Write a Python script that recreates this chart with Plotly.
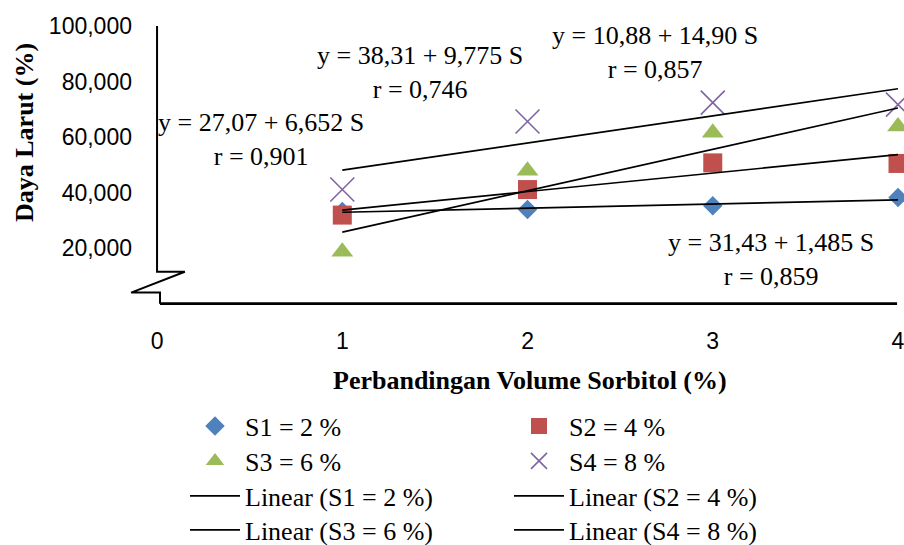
import plotly.graph_objects as go

# ---- data ----
x_vals = [1, 2, 3, 4]
s1 = [33.2, 33.9, 35.3, 38.2]
s2 = [31.9, 41.1, 50.7, 50.5]
s3 = [18.7, 47.9, 61.6, 63.8]
s4 = [41.1, 65.6, 72.4, 71.7]
series_names = ["S1 = 2 %", "S2 = 4 %", "S3 = 6 %", "S4 = 8 %"]
intercepts = [31.43, 27.07, 10.88, 38.31]
slopes = [1.485, 6.652, 14.90, 9.775]
r_vals = ["0,859", "0,901", "0,857", "0,746"]
eq_text = ["31,43 + 1,485 S", "27,07 + 6,652 S", "10,88 + 14,90 S", "38,31 + 9,775 S"]
y_ticks = [20, 40, 60, 80, 100]
y_ticktext = ["20,000", "40,000", "60,000", "80,000", "100,000"]
x_ticks = [0, 1, 2, 3, 4]
x_ticktext = ["0", "1", "2", "3", "4"]

colors = ["#4F81BD", "#C0504D", "#9BBB59", "#8064A2"]
symbols = ["diamond", "square", "triangle-up", "x-thin"]
sizes = [15, 19, 19, 24]
SERIF = "Liberation Serif, Times New Roman, serif"
SANS = "Liberation Sans, Arial, sans-serif"

W, H = 904, 545
ML, MR, MT, MB = 120, 6, 26, 233
PW, PH = W - ML - MR, H - MT - MB

def px_to_paper_x(px):
    return (px - ML) / PW

def px_to_paper_y(py):
    return (MT + PH - py) / PH

fig = go.Figure()
data = [s1, s2, s3, s4]
legend_ids = ["legend", "legend2", "legend3", "legend4"]
for i in range(4):
    fig.add_trace(go.Scatter(
        x=x_vals, y=data[i], mode="markers", name=series_names[i],
        marker=dict(symbol=symbols[i], size=sizes[i], color=colors[i],
                    line=dict(width=1.6 if symbols[i] == "x-thin" else 0, color=colors[i])),
        legend=legend_ids[i], cliponaxis=False,
    ))
trend_legends = ["legend5", "legend6", "legend7", "legend8"]
for i in range(4):
    xs = [x_vals[0], x_vals[-1]]
    ys = [intercepts[i] + slopes[i] * xx for xx in xs]
    fig.add_trace(go.Scatter(
        x=xs, y=ys, mode="lines", name="Linear (" + series_names[i] + ")",
        line=dict(color="black", width=1.7), legend=trend_legends[i],
    ))

# equation annotations (S1, S2, S3, S4)
ann_pos = [(3.315, 15.8), (0.56, 59.0), (2.688, 90.6), (1.419, 83.3)]
annotations = []
for i in range(4):
    annotations.append(dict(
        x=ann_pos[i][0], y=ann_pos[i][1], xref="x", yref="y",
        text="y = " + eq_text[i] + "<br>r = " + r_vals[i],
        showarrow=False, align="center",
        font=dict(family=SERIF, size=26, color="black"),
    ))
annotations.append(dict(
    x=px_to_paper_x(530), y=px_to_paper_y(380), xref="paper", yref="paper",
    xanchor="center", yanchor="middle",
    text="<b>Perbandingan Volume Sorbitol (%)</b>", showarrow=False,
    font=dict(family=SERIF, size=26, color="black"),
))
annotations.append(dict(
    x=px_to_paper_x(24), y=px_to_paper_y(133), xref="paper", yref="paper",
    xanchor="center", yanchor="middle",
    text="<b>Daya Larut (%)</b>", showarrow=False, textangle=-90,
    font=dict(family=SERIF, size=26, color="black"),
))

# axis with break (decoration)
shapes = [
    dict(type="path", xref="x", yref="y",
         path="M 0,100 L 0,11.5 L 0.15,11.5 L -0.14,4.0 L 0.016,4.0 L 0.016,0",
         line=dict(color="black", width=2)),
    dict(type="line", xref="x", yref="y", x0=0.016, y0=0, x1=3.995, y1=0,
         line=dict(color="black", width=2.6)),
]

leg_common = dict(bgcolor="rgba(0,0,0,0)", borderwidth=0, font=dict(family=SERIF, size=26, color="black"),
                  xanchor="left", yanchor="middle", itemwidth=50, orientation="v")
col_x = [px_to_paper_x(185), px_to_paper_x(509)]
row_y = [px_to_paper_y(426), px_to_paper_y(461), px_to_paper_y(496), px_to_paper_y(530)]
legends = {}
all_ids = legend_ids + trend_legends
for k, lid in enumerate(all_ids):
    row, col = k // 2, k % 2
    legends[lid] = dict(leg_common, x=col_x[col], y=row_y[row])

fig.update_layout(
    width=W, height=H,
    margin=dict(l=ML, r=MR, t=MT, b=MB, pad=0, autoexpand=False),
    paper_bgcolor="white", plot_bgcolor="white",
    showlegend=True,
    xaxis=dict(range=[-0.2, 4.0], tickvals=x_ticks, ticktext=x_ticktext, showgrid=False,
               zeroline=False, showline=False, ticks="", ticklabelstandoff=13,
               ticklabeloverflow="allow",
               tickfont=dict(family=SANS, size=23, color="black")),
    yaxis=dict(range=[-3, 100], tickvals=y_ticks, ticktext=y_ticktext, showgrid=False,
               zeroline=False, showline=False, ticks="", anchor="free",
               position=px_to_paper_x(157), ticklabelstandoff=25,
               tickfont=dict(family=SANS, size=23, color="black")),
    annotations=annotations,
    shapes=shapes,
    **legends,
)

fig.write_html("out.html")
